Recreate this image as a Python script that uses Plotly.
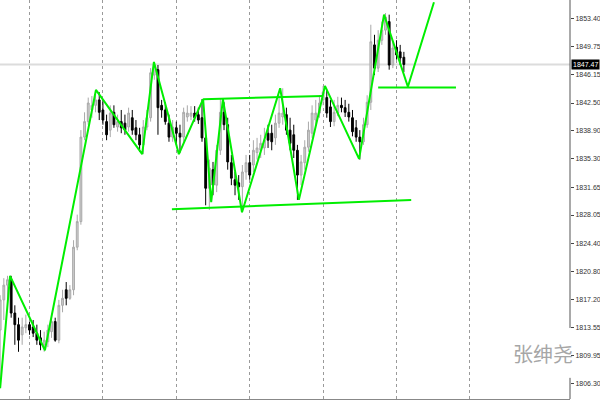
import plotly.graph_objects as go

# ---- candle data (bar index, OHLC) ----
opens = [1813.2, 1817.1, 1819.0, 1819.7, 1815.4, 1813.9, 1812.6, 1813.5, 1813.9, 1813.6,
         1812.8, 1812.2, 1811.3, 1811.7, 1813.0, 1814.3, 1811.9, 1816.4, 1818.4, 1817.3,
         1818.4, 1823.9, 1827.2, 1838.1, 1840.1, 1841.6, 1842.2, 1842.9, 1841.6, 1840.1,
         1839.0, 1841.3, 1839.4, 1840.1, 1839.9, 1839.4, 1840.6, 1839.3, 1838.4, 1837.1,
         1839.4, 1840.6, 1846.1, 1846.8, 1842.2, 1841.6, 1839.9, 1838.1, 1839.3, 1838.6,
         1838.1, 1840.7, 1840.8, 1841.2, 1841.0, 1840.6, 1838.0, 1831.5, 1833.9, 1831.9,
         1836.4, 1841.3, 1839.7, 1834.8, 1832.6, 1832.2, 1831.7, 1833.6, 1834.8, 1834.5,
         1836.1, 1836.4, 1836.7, 1838.6, 1838.6, 1838.0, 1839.9, 1840.7, 1841.0, 1839.0,
         1838.4, 1836.4, 1833.2, 1834.8, 1836.8, 1838.6, 1840.3, 1841.2, 1842.9, 1843.2,
         1842.0, 1840.1, 1841.2, 1842.2, 1841.9, 1841.3, 1840.6, 1839.3, 1838.1, 1837.5,
         1839.7, 1842.6, 1850.0, 1847.0, 1850.6, 1851.9, 1853.0, 1847.4, 1849.7, 1849.1,
         1848.4]
highs = [1817.7, 1819.9, 1820.2, 1820.2, 1816.4, 1814.8, 1814.8, 1815.2, 1814.3, 1814.5,
         1813.9, 1813.2, 1813.0, 1813.9, 1814.8, 1814.8, 1817.1, 1818.4, 1819.4, 1819.0,
         1824.8, 1828.1, 1839.0, 1841.3, 1843.2, 1843.4, 1844.2, 1843.9, 1842.9, 1841.0,
         1842.2, 1842.2, 1841.0, 1841.6, 1841.0, 1841.9, 1841.6, 1840.3, 1839.3, 1840.3,
         1841.6, 1847.0, 1847.8, 1847.4, 1842.9, 1842.6, 1841.0, 1840.3, 1840.1, 1839.7,
         1841.9, 1842.2, 1842.1, 1842.1, 1841.9, 1843.0, 1838.4, 1835.2, 1834.9, 1837.1,
         1843.0, 1842.6, 1840.6, 1835.8, 1833.6, 1833.2, 1834.5, 1835.8, 1835.8, 1837.7,
         1838.0, 1838.4, 1839.3, 1839.7, 1839.7, 1841.0, 1843.5, 1844.4, 1841.9, 1840.6,
         1839.7, 1837.1, 1835.8, 1837.7, 1840.1, 1842.2, 1842.9, 1843.5, 1844.7, 1844.2,
         1842.9, 1842.9, 1843.3, 1843.2, 1842.9, 1842.4, 1841.6, 1840.3, 1839.0, 1840.6,
         1843.5, 1852.6, 1851.3, 1851.9, 1853.0, 1854.1, 1853.9, 1850.4, 1850.6, 1850.0,
         1849.1]
lows = [1805.7, 1814.5, 1817.1, 1814.8, 1811.3, 1810.4, 1811.3, 1812.8, 1812.6, 1812.3,
        1811.3, 1810.6, 1810.4, 1811.0, 1812.2, 1811.7, 1811.5, 1815.5, 1816.4, 1817.1,
        1817.7, 1823.5, 1826.8, 1837.7, 1839.7, 1840.6, 1841.3, 1840.3, 1839.7, 1837.7,
        1838.1, 1839.3, 1838.8, 1838.6, 1838.4, 1838.8, 1838.4, 1837.7, 1836.2, 1835.9,
        1839.0, 1840.1, 1845.5, 1838.4, 1840.6, 1839.7, 1837.5, 1837.5, 1837.1, 1836.1,
        1837.5, 1840.1, 1840.3, 1840.1, 1839.8, 1837.5, 1829.3, 1828.7, 1830.6, 1831.0,
        1835.8, 1839.0, 1833.9, 1831.9, 1830.6, 1830.0, 1828.4, 1832.6, 1832.6, 1833.6,
        1835.2, 1835.4, 1835.8, 1836.7, 1836.4, 1837.1, 1839.3, 1839.7, 1838.4, 1836.4,
        1835.4, 1830.0, 1831.9, 1833.9, 1836.2, 1838.0, 1839.7, 1840.6, 1842.2, 1840.6,
        1839.4, 1839.5, 1840.8, 1841.3, 1840.7, 1840.1, 1838.2, 1837.5, 1835.2, 1837.1,
        1839.3, 1841.6, 1846.1, 1846.5, 1850.0, 1851.3, 1846.8, 1847.0, 1848.1, 1847.4,
        1846.5]
closes = [1817.1, 1819.0, 1819.7, 1815.4, 1813.9, 1811.9, 1813.6, 1813.9, 1813.2, 1812.8,
          1811.9, 1811.3, 1811.9, 1813.2, 1814.3, 1811.9, 1816.4, 1817.3, 1817.3, 1818.4,
          1823.9, 1827.2, 1838.1, 1840.1, 1842.5, 1842.2, 1842.9, 1841.3, 1840.3, 1838.4,
          1841.2, 1839.7, 1840.1, 1839.3, 1839.0, 1841.2, 1839.0, 1838.4, 1837.1, 1839.4,
          1840.6, 1846.4, 1847.2, 1841.9, 1841.6, 1840.1, 1838.1, 1839.4, 1838.6, 1838.1,
          1841.3, 1841.2, 1841.2, 1840.6, 1840.3, 1838.0, 1831.5, 1834.1, 1831.9, 1836.4,
          1841.3, 1839.7, 1834.9, 1832.8, 1831.9, 1831.7, 1833.6, 1834.8, 1833.2, 1836.4,
          1836.7, 1837.3, 1837.7, 1837.7, 1837.5, 1839.9, 1841.2, 1841.2, 1839.0, 1837.3,
          1836.4, 1833.2, 1834.9, 1836.8, 1839.0, 1841.2, 1841.2, 1842.5, 1843.9, 1841.2,
          1840.1, 1841.3, 1842.2, 1841.9, 1841.3, 1840.7, 1838.8, 1838.1, 1837.5, 1839.7,
          1842.6, 1850.4, 1847.0, 1850.6, 1851.9, 1853.6, 1847.4, 1849.6, 1848.7, 1848.3,
          1847.47]
bar_index = list(range(len(opens)))

# ---- hand drawn analysis lines ----
zigzag_x = [0, 2.7, 12.2, 26.1, 38.7, 41.9, 48.7, 55.3, 57.5, 60.7, 65.9, 76.3, 81.4, 88.5,
            97.8, 104.6, 111.1, 118.2]
zigzag_y = [1805.7, 1820.2, 1810.6, 1844.2, 1835.9, 1847.8, 1835.9, 1843.0, 1829.7, 1843.0,
            1828.4, 1844.4, 1830.0, 1844.7, 1835.3, 1853.9, 1844.6, 1855.5]
top_line_x = [55.3, 87.9]
top_line_y = [1843.0, 1843.4]
bottom_line_x = [46.8, 112.0]
bottom_line_y = [1828.8, 1830.0]
level_x = [103.0, 124.2]
level_y = [1844.5, 1844.5]

tick_vals = [1853.40, 1849.75, 1846.15, 1842.50, 1838.90, 1835.30, 1831.65, 1828.05,
             1824.40, 1820.80, 1817.20, 1813.55, 1809.95, 1806.30]
tick_text = ["1853.40", "1849.75", "1846.15", "1842.50", "1838.90", "1835.30", "1831.65",
             "1828.05", "1824.40", "1820.80", "1817.20", "1813.55", "1809.95", "1806.30"]
grid_vals = [8, 28, 48, 68, 88, 108, 128]
last_price = 1847.47
watermark = "张绅尧"

GREEN = "#00ee00"
fig = go.Figure()
fig.add_trace(go.Candlestick(
    x=bar_index, open=opens, high=highs, low=lows, close=closes,
    increasing=dict(line=dict(color="#a8a8a8", width=1), fillcolor="#cfcfcf"),
    decreasing=dict(line=dict(color="#000000", width=1), fillcolor="#000000"),
    whiskerwidth=0, showlegend=False, hoverinfo="skip"))
for xs, ys in [(zigzag_x, zigzag_y), (top_line_x, top_line_y),
               (bottom_line_x, bottom_line_y), (level_x, level_y)]:
    fig.add_trace(go.Scatter(x=xs, y=ys, mode="lines",
                             line=dict(color=GREEN, width=2), showlegend=False,
                             hoverinfo="skip"))

fig.add_shape(type="line", xref="paper", x0=0, x1=1, yref="y", y0=last_price, y1=last_price,
              line=dict(color="#dcdcdc", width=2), layer="below")
# right axis line (broken behind watermark)
fig.add_shape(type="line", xref="paper", x0=1, x1=1, yref="paper", y0=0.178, y1=1,
              line=dict(color="#555555", width=1))
fig.add_shape(type="line", xref="paper", x0=1, x1=1, yref="paper", y0=0, y1=0.053,
              line=dict(color="#555555", width=1))

fig.add_annotation(xref="paper", x=1, xanchor="left", yref="y", y=last_price,
                   text="1847.47", showarrow=False, bgcolor="#000000",
                   font=dict(color="#ffffff", size=7, family="Liberation Sans"),
                   borderpad=1, xshift=1)
fig.add_annotation(xref="paper", x=543 / 570, xanchor="center",
                   yref="paper", y=1 - 353 / 399, yanchor="middle",
                   text=watermark, showarrow=False,
                   font=dict(color="#a6a6a6", size=20, family="Noto Sans CJK SC"))

fig.update_layout(
    width=600, height=400, margin=dict(l=0, r=30, t=0, b=1),
    paper_bgcolor="white", plot_bgcolor="white",
    xaxis=dict(range=[-0.04, 155.27], tickvals=grid_vals, showticklabels=False,
               showgrid=True, gridcolor="#9a9a9a", griddash="dot", gridwidth=1,
               zeroline=False, rangeslider=dict(visible=False), showline=True,
               linecolor="#888888", linewidth=1, ticks=""),
    yaxis=dict(range=[1804.31, 1855.79], side="right", tickvals=tick_vals,
               ticktext=tick_text, showgrid=False, zeroline=False, showline=False,
               ticks="outside", ticklen=3, tickcolor="#444444",
               tickfont=dict(size=7, color="#333333", family="Liberation Sans")),
)
fig.write_html("out.html", config={"displayModeBar": False},
               post_script="document.body.style.margin='0';")
